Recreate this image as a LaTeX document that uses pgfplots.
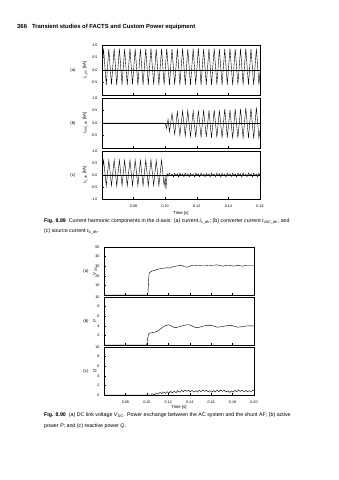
\documentclass[border=0pt]{standalone}
\usepackage{fontspec}
\setmainfont{Liberation Sans}
\usepackage{pgfplots}
\pgfplotsset{compat=1.18}

\pgfplotstableread{
t v
0.0600 0.10
0.0610 0.85
0.0627 -0.60
0.0643 0.84
0.0660 -0.58
0.0677 0.86
0.0693 -0.60
0.0710 0.85
0.0727 -0.59
0.0743 0.84
0.0760 -0.60
0.0777 0.86
0.0793 -0.58
0.0810 0.85
0.0827 -0.60
0.0843 0.84
0.0860 -0.59
0.0877 0.85
0.0893 -0.60
0.0910 0.86
0.0927 -0.58
0.0943 0.84
0.0960 -0.60
0.0977 0.85
0.0993 -0.59
0.1010 0.86
0.1027 -0.60
0.1043 0.84
0.1060 -0.58
0.1077 0.85
0.1093 -0.60
0.1110 0.86
0.1127 -0.59
0.1143 0.84
0.1160 -0.60
0.1177 0.85
0.1193 -0.58
0.1210 0.86
0.1227 -0.60
0.1243 0.84
0.1260 -0.59
0.1277 0.85
0.1293 -0.60
0.1310 0.86
0.1327 -0.58
0.1343 0.84
0.1360 -0.60
0.1377 0.85
0.1393 -0.59
0.1410 0.86
0.1427 -0.60
0.1443 0.84
0.1460 -0.58
0.1477 0.85
0.1493 -0.60
0.1510 0.86
0.1527 -0.59
0.1543 0.84
0.1560 -0.60
0.1577 0.85
0.1593 -0.58
0.1600 -0.10
}\iLdh

\pgfplotstableread{
t v
0.0600 0.00
0.0995 0.00
0.1002 -0.05
0.1008 -0.22
0.1018 0.15
0.1027 -0.35
0.1043 0.38
0.1060 -0.45
0.1077 0.45
0.1093 -0.50
0.1110 0.48
0.1127 -0.52
0.1143 0.50
0.1160 -0.55
0.1177 0.48
0.1193 -0.56
0.1210 0.50
0.1227 -0.58
0.1243 0.52
0.1260 -0.56
0.1277 0.50
0.1293 -0.60
0.1310 0.52
0.1327 -0.58
0.1343 0.50
0.1360 -0.60
0.1377 0.55
0.1393 -0.58
0.1410 0.52
0.1427 -0.62
0.1443 0.56
0.1460 -0.60
0.1477 0.55
0.1493 -0.62
0.1510 0.60
0.1527 -0.60
0.1543 0.58
0.1560 -0.62
0.1577 0.62
0.1593 -0.60
0.1600 -0.30
}\iVSC

\pgfplotstableread{
t v
0.0600 0.05
0.0610 0.62
0.0627 -0.45
0.0643 0.61
0.0660 -0.44
0.0677 0.63
0.0693 -0.45
0.0710 0.62
0.0727 -0.44
0.0743 0.61
0.0760 -0.45
0.0777 0.63
0.0793 -0.44
0.0810 0.62
0.0827 -0.45
0.0843 0.61
0.0860 -0.44
0.0877 0.62
0.0893 -0.45
0.0910 0.63
0.0927 -0.44
0.0943 0.61
0.0960 -0.45
0.0977 0.62
0.0993 -0.44
0.1000 -0.10
0.1005 -0.58
0.1012 0.05
0.1019 -0.04
0.1027 0.08
0.1035 -0.03
0.1044 0.04
0.1052 -0.08
0.1060 0.07
0.1068 -0.02
0.1077 0.05
0.1085 -0.08
0.1093 0.08
0.1101 -0.03
0.1110 0.04
0.1118 -0.07
0.1127 0.08
0.1135 -0.02
0.1144 0.05
0.1152 -0.08
0.1160 0.07
0.1168 -0.03
0.1177 0.04
0.1185 -0.08
0.1193 0.08
0.1201 -0.02
0.1210 0.05
0.1218 -0.07
0.1227 0.08
0.1235 -0.03
0.1244 0.04
0.1252 -0.08
0.1260 0.07
0.1268 -0.02
0.1277 0.05
0.1285 -0.08
0.1293 0.08
0.1301 -0.03
0.1310 0.04
0.1318 -0.07
0.1327 0.08
0.1335 -0.02
0.1344 0.05
0.1352 -0.08
0.1360 0.07
0.1368 -0.03
0.1377 0.04
0.1385 -0.08
0.1393 0.08
0.1401 -0.02
0.1410 0.05
0.1418 -0.07
0.1427 0.08
0.1435 -0.03
0.1444 0.04
0.1452 -0.08
0.1460 0.07
0.1468 -0.02
0.1477 0.05
0.1485 -0.08
0.1493 0.08
0.1501 -0.03
0.1510 0.04
0.1518 -0.07
0.1527 0.08
0.1535 -0.02
0.1544 0.05
0.1552 -0.08
0.1560 0.07
0.1568 -0.03
0.1577 0.04
0.1585 -0.08
0.1593 0.08
0.1600 -0.02
}\iSdh

\pgfplotstableread{
t v
0.0600 0
0.1005 0
0.1010 2
0.1016 15
0.1022 23
0.1035 24
0.1050 25
0.1070 25.5
0.1090 26.5
0.1110 27
0.1130 27.5
0.1150 28
0.1170 28
0.1190 28.5
0.1210 28
0.1230 29
0.1250 29.5
0.1270 30
0.1290 30.5
0.1310 31
0.1330 30.5
0.1350 29.5
0.1370 29
0.1390 29.5
0.1410 30.5
0.1430 31
0.1450 31
0.1470 30.5
0.1490 30.5
0.1510 31
0.1530 31
0.1550 31
0.1570 30.5
0.1590 30.5
0.1610 31
0.1630 31
0.1650 31.5
0.1670 31
0.1690 30.5
0.1710 30
0.1730 30.5
0.1750 31
0.1770 31
0.1790 30.5
0.1810 30
0.1830 30.5
0.1850 31
0.1870 30.5
0.1890 30
0.1910 30.5
0.1930 31
0.1950 31
0.1970 31
0.2000 31
}\Vdc

\pgfplotstableread{
t v
0.0600 0
0.0998 0
0.1005 1.0
0.1015 2.3
0.1030 2.5
0.1060 2.6
0.1090 2.8
0.1110 3.0
0.1140 3.6
0.1170 4.0
0.1200 4.2
0.1220 4.1
0.1250 3.7
0.1270 3.6
0.1300 3.8
0.1330 4.0
0.1370 4.2
0.1400 4.2
0.1430 3.9
0.1460 3.6
0.1490 3.7
0.1520 3.9
0.1560 4.1
0.1600 4.1
0.1630 3.9
0.1660 3.7
0.1690 3.8
0.1720 3.9
0.1760 4.1
0.1790 4.1
0.1820 3.9
0.1850 3.7
0.1880 3.8
0.1910 3.9
0.1950 4.0
0.2000 4.0
}\Pact

\pgfplotstableread{
t v
0.0600 0
0.1040 0
0.1055 0.25
0.1072 0.05
0.1088 0.40
0.1105 0.15
0.1122 0.55
0.1138 0.30
0.1155 0.65
0.1172 0.35
0.1188 0.70
0.1205 0.40
0.1222 0.75
0.1238 0.45
0.1255 0.80
0.1272 0.50
0.1288 0.90
0.1305 0.60
0.1322 1.00
0.1338 0.70
0.1355 1.05
0.1372 0.75
0.1388 1.00
0.1405 0.70
0.1422 0.95
0.1438 0.60
0.1455 0.90
0.1472 0.60
0.1488 1.00
0.1505 0.70
0.1522 1.05
0.1538 0.75
0.1555 1.00
0.1572 0.70
0.1588 0.90
0.1605 0.60
0.1622 0.90
0.1638 0.65
0.1655 1.00
0.1672 0.70
0.1688 1.05
0.1705 0.75
0.1722 1.00
0.1738 0.65
0.1755 0.85
0.1772 0.55
0.1788 0.85
0.1805 0.60
0.1822 0.95
0.1838 0.70
0.1855 1.05
0.1872 0.75
0.1888 1.00
0.1905 0.70
0.1922 0.95
0.1938 0.65
0.1955 0.90
0.1972 0.70
0.1988 1.00
0.2000 0.85
}\Qreact

\pgfplotsset{
  panel/.style={
    scale only axis,
    anchor=north west,
    axis line style={line width=0.5pt},
    tick style={line width=0.4pt, black},
    major tick length=2pt,
    tick align=inside,
    xtick pos=bottom,
    ytick pos=left,
    ticklabel style={font=\fontsize{3.7}{4.5}\selectfont},
    yticklabel style={xshift=-1pt},
    xticklabel style={yshift=-2pt},
    /pgf/number format/assume math mode=true,
    cycle list={{black, no markers, line width=0.45pt}},
  },
  figA/.style={panel, width=158pt, height=50pt, xmin=0.06, xmax=0.16, ymin=-1, ymax=1,
    xtick={0.08,0.10,0.12,0.14,0.16}, xticklabels={},
    ytick={-1,-0.5,0,0.5,1}, yticklabels={{},{-0.5},{0.0},{0.5},{1.0}}},
  figB/.style={panel, width=150pt, height=48pt, xmin=0.06, xmax=0.20, ymin=0,
    xtick={0.08,0.10,0.12,0.14,0.16,0.18,0.20}, xticklabels={}},
}

\newcommand{\sub}[2]{\textit{#1}\textsubscript{#2}}

\begin{document}
\begin{tikzpicture}[x=1pt,y=1pt]
\useasboundingbox (0pt,0pt) rectangle (339pt,-480pt);
\fill[white] (0pt,0pt) rectangle (339pt,-480pt);

% header
\node[anchor=west, inner sep=0pt, font=\bfseries\fontsize{5.9}{7}\selectfont] at (17pt,-27pt)
  {366\hspace{5pt}Transient studies of FACTS and Custom Power equipment};

% ---------- Figure 8.89 ----------
\begin{axis}[figA, at={(102pt,-45pt)}]
  \addplot[black, line width=0.3pt] coordinates {(0.06,0) (0.16,0)};
  \addplot table[x=t,y=v] {\iLdh};
\end{axis}
\begin{axis}[figA, at={(102pt,-98pt)}]
  \addplot[black, line width=0.3pt] coordinates {(0.06,0) (0.16,0)};
  \addplot table[x=t,y=v] {\iVSC};
\end{axis}
\begin{axis}[figA, at={(102pt,-151pt)}, height=48pt,
  yticklabels={{-1.0},{-0.5},{0.0},{0.5},{1.0}},
  xticklabels={0.08,0.10,0.12,0.14,0.16}]
  \addplot[black, line width=0.3pt] coordinates {(0.06,0) (0.16,0)};
  \addplot table[x=t,y=v] {\iSdh};
\end{axis}

\begin{scope}[every node/.style={font=\fontsize{4.3}{5}\selectfont, inner sep=0pt}]
\node at (73pt,-70pt) {(a)};
\node[rotate=90] at (85pt,-70pt) {\sub{i}{L\_dh} [kA]};
\node at (73pt,-123pt) {(b)};
\node[rotate=90] at (85pt,-123pt) {\sub{i}{VSC\_dh} [kA]};
\node at (73pt,-175pt) {(c)};
\node[rotate=90] at (85pt,-175pt) {\sub{i}{S\_dh} [kA]};
\node at (181pt,-213pt) {Time [s]};
\end{scope}

\node[anchor=west, inner sep=0pt, font=\fontsize{5.3}{6}\selectfont] at (44pt,-221pt)
  {\textbf{Fig. 8.89}\hspace{3pt}Current harmonic components in the \textit{d}-axis: (a) current \sub{i}{L\_dh}; (b) converter current \sub{i}{VSC\_dh}; and};
\node[anchor=west, inner sep=0pt, font=\fontsize{5.3}{6}\selectfont] at (44pt,-231pt)
  {(c) source current \sub{i}{S\_dh}.};

% ---------- Figure 8.90 ----------
\begin{axis}[figB, at={(104pt,-247pt)}, ymax=50, ytick={10,20,30,40,50}]
  \addplot table[x=t,y=v] {\Vdc};
\end{axis}
\begin{axis}[figB, at={(104pt,-297pt)}, ymax=10, ytick={2,4,6,8,10}]
  \addplot table[x=t,y=v] {\Pact};
\end{axis}
\begin{axis}[figB, at={(104pt,-347pt)}, ymax=10, ytick={0,2,4,6,8,10},
  xticklabels={0.08,0.10,0.12,0.14,0.16,0.18,0.20}]
  \addplot table[x=t,y=v] {\Qreact};
\end{axis}

\begin{scope}[every node/.style={font=\fontsize{4.3}{5}\selectfont, inner sep=0pt}]
\node at (86pt,-271pt) {(a)};
\node[rotate=90] at (95pt,-271pt) {\sub{V}{DC}};
\node at (86pt,-321pt) {(b)};
\node[rotate=90] at (95pt,-321pt) {\textit{P}};
\node at (86pt,-371pt) {(c)};
\node[rotate=90] at (95pt,-371pt) {\textit{Q}};
\node at (179pt,-407pt) {Time [s]};
\end{scope}

\node[anchor=west, inner sep=0pt, font=\fontsize{5.3}{6}\selectfont] at (44pt,-415pt)
  {\textbf{Fig. 8.90}\hspace{3pt}(a) DC link voltage \sub{V}{DC}. Power exchange between the AC system and the shunt AF; (b) active};
\node[anchor=west, inner sep=0pt, font=\fontsize{5.3}{6}\selectfont] at (44pt,-426pt)
  {power \textit{P}; and (c) reactive power \textit{Q}.};

\end{tikzpicture}
\end{document}
